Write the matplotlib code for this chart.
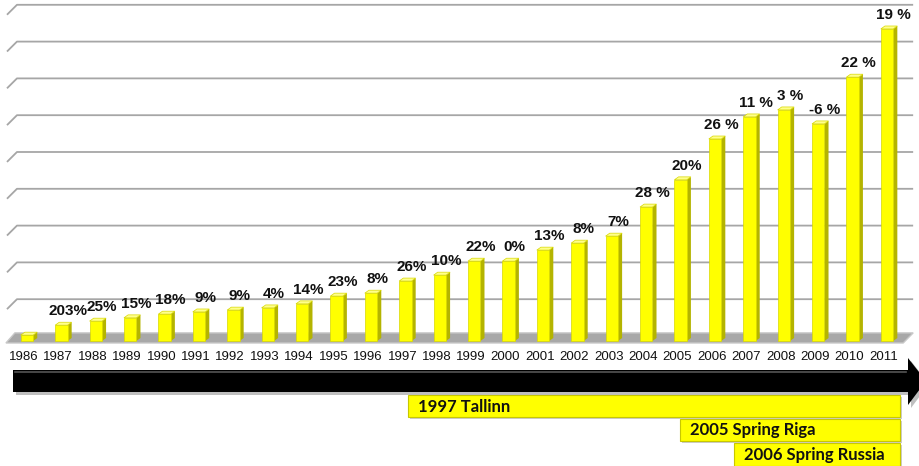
import matplotlib.pyplot as plt
from matplotlib.patches import Polygon, Rectangle

years = [str(y) for y in range(1986, 2012)]
values = [1.6, 4.3, 5.4, 6.3, 7.3, 7.9, 8.4, 9.0, 10.1, 12.2, 13.0, 16.3, 17.9,
          21.7, 21.7, 24.7, 26.6, 28.5, 36.4, 43.8, 54.9, 60.9, 62.8, 59.0, 71.7, 84.8]
growth = ["", "203%", "25%", "15%", "18%", "9%", "9%", "4%", "14%", "23%", "8%",
          "26%", "10%", "22%", "0%", "13%", "8%", "7%", "28 %", "20%", "26 %",
          "11 %", "3 %", "-6 %", "22 %", "19 %"]
periods = ["1997 Tallinn", "2005 Spring Riga", "2006 Spring Russia"]

# layout (pixels of the 919x466 picture)
W, H = 919, 466
period_left = [408, 680, 734]
period_rows = [(395, 417), (419, 441), (443, 466)]
period_right = 900

YELLOW = "#FFFF00"
SIDE = "#B4B400"
TOP = "#FFFF8C"
GRID = "#A6A6A6"

fig = plt.figure(figsize=(W / 100, H / 100), dpi=100)

# bars area in data units (grid every 10)
ax = fig.add_axes([0, 0, 1, 1])
ax.set_xlim(-0.843, 25.87)
ax.set_ylim(-125 / 3.68, (H - 125) / 3.68)
ax.axis("off")

# back wall grid lines with a slanted left end
for k in range(1, 10):
    g = 1.36 + 10 * k
    ax.plot([-0.64, -0.35, 25.7], [g - 2.7, g, g], color=GRID, lw=1.3,
            solid_capstyle="butt", zorder=1)

# floor
ax.add_patch(Polygon([(-0.67, -0.54), (-0.41, 2.2), (25.7, 2.2), (25.41, -0.54)],
                     closed=True, facecolor="#A8A8A8", edgecolor="#C8C8C8",
                     lw=1, zorder=2))

# pseudo 3D bars
dy = 0.8
for i, v in enumerate(values):
    x0, xf, xs = i - 0.24, i + 0.12, i + 0.24
    ax.add_patch(Polygon([(xf, 0), (xs, dy), (xs, v + dy), (xf, v)],
                         closed=True, facecolor=SIDE, edgecolor="none", zorder=3))
    ax.add_patch(Rectangle((x0, 0), xf - x0, v, facecolor=YELLOW,
                           edgecolor="#D8D800", lw=0.5, zorder=4))
    ax.add_patch(Polygon([(x0, v), (xf, v), (xs, v + dy), (x0 + 0.12, v + dy)],
                         closed=True, facecolor=TOP, edgecolor="#D8D800",
                         lw=0.5, zorder=5))
    if growth[i]:
        ax.annotate(growth[i], (i + 0.12, v), xytext=(0, 10), textcoords="offset points",
                    ha="center", va="center", fontsize=11, fontweight="bold",
                    family="Liberation Sans", color="#111111", zorder=6)
    ax.text(i - 0.15, -4.35, years[i], ha="center", va="center", fontsize=9.5,
            family="Liberation Sans", color="#111111")

# timeline arrow and period boxes, in pixel coordinates
deco = fig.add_axes([0, 0, 1, 1])
deco.set_xlim(0, W)
deco.set_ylim(H, 0)
deco.axis("off")
deco.patch.set_visible(False)

arrow = [(13, 370), (908, 370), (908, 358), (926, 381), (908, 405), (908, 392), (13, 392)]
deco.add_patch(Polygon([(x + 3, y + 3) for x, y in arrow], closed=True,
                       facecolor="#000000", alpha=0.25, edgecolor="none"))
deco.add_patch(Polygon(arrow, closed=True, facecolor="#000000", edgecolor="none"))
deco.plot([15, 906], [371.5, 371.5], color="#555555", lw=1.2)

for name, left, (top, bottom) in zip(periods, period_left, period_rows):
    deco.add_patch(Rectangle((left + 2, top + 2), period_right - left, bottom - top,
                             facecolor="#000000", alpha=0.2, edgecolor="none"))
    deco.add_patch(Rectangle((left, top), period_right - left, bottom - top,
                             facecolor=YELLOW, edgecolor="#C8C800", lw=0.8))
    deco.text(left + 10, (top + bottom) / 2 + 0.5, name, ha="left", va="center",
              fontsize=12, fontweight="bold", family="Lato", color="#111111")

fig.savefig("out.png", dpi=100)
